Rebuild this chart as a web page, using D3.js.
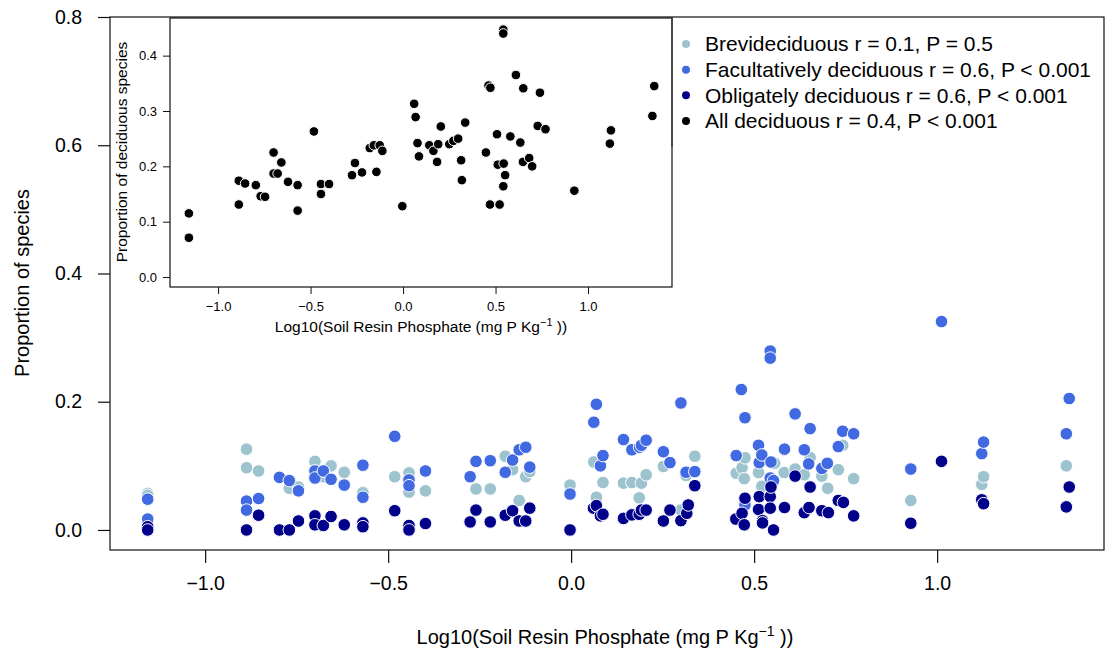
<!DOCTYPE html>
<html>
<head>
<meta charset="utf-8">
<script src="https://cdn.jsdelivr.net/npm/d3@7"></script>
<style>
  body { margin: 0; background: #fff; }
  svg { display: block; font-family: "Liberation Sans", Arial, Helvetica, sans-serif; }
</style>
</head>
<body>
<svg id="chart" width="1106" height="652"></svg>
<script>
// [log10 P, proportion]
const brevi = [
  [-1.157,0.057],[-1.157,0.054],
  [-0.887,0.126],[-0.887,0.097],[-0.854,0.092],
  [-0.770,0.065],[-0.745,0.067],
  [-0.700,0.107],[-0.677,0.083],[-0.656,0.100],
  [-0.620,0.090],[-0.569,0.059],[-0.569,0.058],
  [-0.482,0.083],[-0.443,0.089],[-0.443,0.059],[-0.398,0.061],
  [-0.260,0.064],[-0.221,0.064],[-0.180,0.115],[-0.160,0.094],[-0.142,0.046],[-0.124,0.083],[-0.113,0.091],
  [-0.003,0.070],[0.062,0.106],[0.069,0.051],[0.087,0.074],
  [0.143,0.073],[0.166,0.074],[0.186,0.050],[0.192,0.073],[0.205,0.086],
  [0.252,0.099],[0.300,0.031],[0.314,0.085],[0.338,0.115],
  [0.451,0.0885],[0.467,0.097],[0.473,0.080],[0.475,0.1125],[0.512,0.0895],[0.521,0.068],[0.556,0.104],
  [0.582,0.0895],[0.612,0.095],[0.637,0.086],[0.653,0.113],[0.685,0.084],[0.701,0.065],[0.730,0.094],
  [0.742,0.132],[0.772,0.080],
  [0.928,0.046],[1.122,0.071],[1.127,0.083],[1.353,0.100]
];

const facult = [
  [-1.157,0.048],[-1.157,0.017],
  [-0.887,0.045],[-0.887,0.031],[-0.854,0.049],
  [-0.797,0.082],[-0.770,0.077],[-0.745,0.061],
  [-0.700,0.092],[-0.700,0.081],[-0.677,0.092],[-0.656,0.079],
  [-0.620,0.070],[-0.569,0.101],[-0.569,0.051],
  [-0.482,0.146],[-0.443,0.078],[-0.443,0.069],[-0.398,0.092],
  [-0.276,0.083],[-0.260,0.107],[-0.221,0.108],[-0.180,0.090],[-0.160,0.109],[-0.142,0.125],[-0.124,0.129],[-0.113,0.098],
  [-0.003,0.056],[0.062,0.168],[0.069,0.196],[0.080,0.100],[0.087,0.116],
  [0.143,0.141],[0.166,0.125],[0.187,0.129],[0.192,0.132],[0.205,0.140],
  [0.252,0.122],[0.270,0.105],[0.300,0.198],[0.314,0.090],[0.338,0.091],
  [0.451,0.116],[0.465,0.219],[0.475,0.175],[0.475,0.039],[0.512,0.132],[0.514,0.105],[0.521,0.117],
  [0.544,0.279],[0.544,0.268],[0.544,0.081],[0.546,0.106],[0.553,0.077],[0.583,0.126],[0.612,0.181],
  [0.637,0.125],[0.649,0.103],[0.653,0.158],[0.685,0.096],[0.700,0.104],[0.730,0.130],[0.742,0.154],[0.772,0.150],
  [0.928,0.095],[1.012,0.325],[1.122,0.119],[1.127,0.137],[1.353,0.150],[1.361,0.205]
];

const obligate = [
  [-1.157,0.005],[-1.157,0.000],
  [-0.887,0.000],[-0.854,0.023],
  [-0.797,0.000],[-0.770,0.000],[-0.745,0.014],
  [-0.700,0.022],[-0.700,0.008],[-0.677,0.007],[-0.656,0.021],
  [-0.620,0.008],[-0.569,0.011],[-0.569,0.005],
  [-0.482,0.030],[-0.443,0.007],[-0.443,0.000],[-0.398,0.010],
  [-0.276,0.0125],[-0.260,0.031],[-0.221,0.0125],[-0.180,0.023],[-0.160,0.030],[-0.142,0.014],[-0.124,0.014],[-0.113,0.034],
  [-0.003,0.000],[0.061,0.034],[0.069,0.038],[0.080,0.022],[0.087,0.0245],
  [0.143,0.018],[0.166,0.0235],[0.186,0.0245],[0.192,0.031],[0.205,0.031],
  [0.252,0.014],[0.270,0.031],[0.300,0.0145],[0.316,0.026],[0.320,0.039],[0.338,0.069],
  [0.450,0.017],[0.467,0.026],[0.473,0.008],[0.475,0.0495],[0.512,0.032],[0.514,0.052],[0.523,0.0145],[0.523,0.011],
  [0.544,0.052],[0.544,0.034],[0.546,0.067],[0.553,0.000],[0.583,0.035],[0.612,0.084],[0.637,0.027],[0.650,0.035],
  [0.653,0.067],[0.685,0.030],[0.703,0.027],[0.730,0.046],[0.744,0.043],[0.772,0.022],
  [0.928,0.0105],[1.012,0.107],[1.122,0.047],[1.127,0.041],[1.353,0.036],[1.361,0.067]
];

// inset: all deciduous
const allDecid = [
  [-1.158,0.115],[-1.158,0.071],[-0.888,0.174],[-0.854,0.169],[-0.888,0.131],[-0.796,0.166],
  [-0.770,0.146],[-0.746,0.145],[-0.700,0.225],[-0.700,0.187],[-0.678,0.187],[-0.658,0.207],
  [-0.622,0.172],[-0.570,0.166],[-0.570,0.120],[-0.482,0.263],[-0.444,0.168],[-0.444,0.150],
  [-0.400,0.168],[-0.276,0.184],[-0.260,0.206],[-0.222,0.189],[-0.180,0.233],[-0.158,0.238],
  [-0.144,0.190],[-0.126,0.238],[-0.112,0.228],[-0.004,0.128],[0.060,0.313],[0.068,0.289],
  [0.078,0.242],[0.086,0.218],[0.142,0.238],[0.164,0.228],[0.184,0.208],[0.190,0.240],
  [0.204,0.272],[0.250,0.240],[0.272,0.246],[0.298,0.250],[0.314,0.211],[0.318,0.175],
  [0.336,0.279],[0.448,0.225],[0.462,0.346],[0.472,0.342],[0.470,0.131],[0.508,0.258],
  [0.512,0.203],[0.522,0.131],[0.542,0.447],[0.542,0.440],[0.544,0.205],[0.552,0.184],
  [0.542,0.164],[0.580,0.254],[0.610,0.365],[0.634,0.243],[0.650,0.341],[0.648,0.208],
  [0.682,0.215],[0.698,0.200],[0.728,0.273],[0.740,0.333],[0.770,0.267],[0.926,0.156],
  [1.118,0.241],[1.124,0.265],[1.348,0.291],[1.358,0.345]
];

const xTicks = [-1, -0.5, 0, 0.5, 1];
const yTicks = [0, 0.2, 0.4, 0.6, 0.8];
const insetYTicks = [0, 0.1, 0.2, 0.3, 0.4];

const seriesNames = ["Brevideciduous r = 0.1, P = 0.5",
  "Facultatively deciduous r = 0.6, P < 0.001",
  "Obligately deciduous r = 0.6, P < 0.001",
  "All deciduous r = 0.4, P < 0.001"];
const seriesColors = ["#9dc3cf", "#4169e1", "#00008b", "#000000"];

const svg = d3.select("#chart");
const fmt = d3.format(".1f");

// main panel
const x = d3.scaleLinear().domain([-1.26, 1.456]).range([110, 1104]);
const y = d3.scaleLinear().domain([-0.03125, 0.8]).range([550, 17]);

const xAxis = svg.append("g")
  .attr("transform", "translate(0,550)")
  .call(d3.axisBottom(x).tickValues(xTicks).tickFormat(fmt).tickSize(13).tickPadding(13));
const yAxis = svg.append("g")
  .attr("transform", "translate(110,0)")
  .call(d3.axisLeft(y).tickValues(yTicks).tickFormat(fmt).tickSize(12).tickPadding(16));
[xAxis, yAxis].forEach(g => {
  g.select(".domain").remove();
  g.attr("font-family", null).attr("font-size", 19.5);
  g.selectAll("line").attr("stroke", "#111").attr("stroke-width", 1.2);
});

[[brevi, 0], [facult, 1], [obligate, 2]].forEach(([pts, i]) => {
  svg.append("g").selectAll("circle")
    .data(pts)
    .join("circle")
    .attr("cx", d => x(d[0]))
    .attr("cy", d => y(d[1]))
    .attr("r", 6.3)
    .attr("fill", seriesColors[i])
    .attr("stroke", "#fff")
    .attr("stroke-width", 1);
});

svg.append("rect")
  .attr("x", x.range()[0]).attr("y", y.range()[1])
  .attr("width", x.range()[1] - x.range()[0])
  .attr("height", y.range()[0] - y.range()[1])
  .attr("fill", "none").attr("stroke", "#111").attr("stroke-width", 1.2);

svg.append("text")
  .attr("x", 605).attr("y", 644)
  .attr("text-anchor", "middle").attr("font-size", 20)
  .call(t => {
    t.append("tspan").text("Log10(Soil Resin Phosphate (mg P Kg");
    t.append("tspan").attr("dy", -8).attr("font-size", 14).text("\u22121");
    t.append("tspan").attr("dy", 8).text(" ))");
  });

svg.append("text")
  .attr("transform", "translate(29,283) rotate(-90)")
  .attr("text-anchor", "middle").attr("font-size", 20)
  .text("Proportion of species");

// inset
const ix = d3.scaleLinear().domain([-1.26, 1.454]).range([170, 672]);
const iy = d3.scaleLinear().domain([-0.018, 0.468]).range([287, 18]);

svg.append("rect")
  .attr("x", 170).attr("y", 18)
  .attr("width", 502).attr("height", 269)
  .attr("fill", "#fff").attr("stroke", "#111").attr("stroke-width", 1.2);

const ixAxis = svg.append("g")
  .attr("transform", "translate(0,287)")
  .call(d3.axisBottom(ix).tickValues(xTicks).tickFormat(fmt).tickSize(7).tickPadding(8));
const iyAxis = svg.append("g")
  .attr("transform", "translate(170,0)")
  .call(d3.axisLeft(iy).tickValues(insetYTicks).tickFormat(fmt).tickSize(7).tickPadding(6));
[ixAxis, iyAxis].forEach(g => {
  g.select(".domain").remove();
  g.attr("font-family", null).attr("font-size", 13);
  g.selectAll("line").attr("stroke", "#111");
});

svg.append("g").selectAll("circle")
  .data(allDecid)
  .join("circle")
  .attr("cx", d => ix(d[0]))
  .attr("cy", d => iy(d[1]))
  .attr("r", 4.8)
  .attr("fill", seriesColors[3])
  .attr("stroke", "#fff")
  .attr("stroke-width", 1);

svg.append("text")
  .attr("x", 421).attr("y", 332)
  .attr("text-anchor", "middle").attr("font-size", 15.5)
  .call(t => {
    t.append("tspan").text("Log10(Soil Resin Phosphate (mg P Kg");
    t.append("tspan").attr("dy", -6).attr("font-size", 11).text("\u22121");
    t.append("tspan").attr("dy", 6).text(" ))");
  });

svg.append("text")
  .attr("transform", "translate(127,152) rotate(-90)")
  .attr("text-anchor", "middle").attr("font-size", 15.5)
  .text("Proportion of deciduous species");

// legend
const legendY = d3.scalePoint().domain(d3.range(4)).range([44, 121]);
svg.append("line")
  .attr("x1", 672).attr("x2", 672).attr("y1", 17).attr("y2", 147)
  .attr("stroke", "#333").attr("stroke-width", 1.2);
const leg = svg.append("g").selectAll("g")
  .data(seriesNames)
  .join("g")
  .attr("transform", (d, i) => `translate(0,${legendY(i)})`);
leg.append("circle").attr("cx", 686).attr("r", 4).attr("fill", (d, i) => seriesColors[i]);
leg.append("text").attr("x", 705).attr("dy", "0.35em").attr("font-size", 21).text(d => d);
</script>
</body>
</html>
